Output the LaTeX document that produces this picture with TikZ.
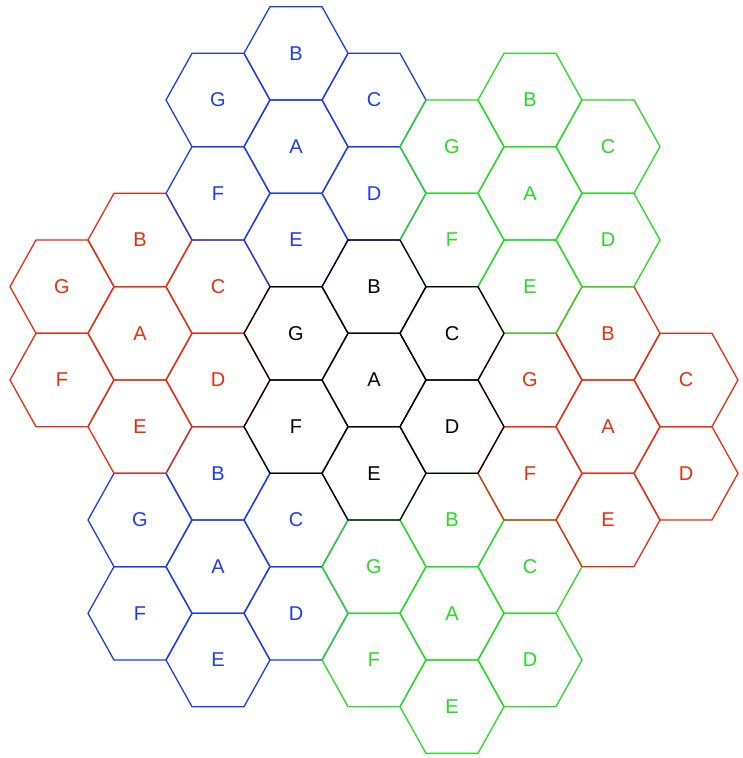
\documentclass[tikz,border=0pt]{standalone}
\usepackage{fontspec}
\setmainfont{Liberation Sans}
\definecolor{hblue}{RGB}{30,60,235}
\definecolor{hgreen}{RGB}{35,220,35}
\definecolor{hred}{RGB}{230,45,15}
\definecolor{hblack}{RGB}{0,0,0}
\tikzset{
  hexline/.style={line width=1.3pt, line join=miter},
  lbl/.style={font=\fontsize{20}{22}\selectfont, inner sep=0pt}
}
\newcommand\hexcell[5]{%
  \draw[hexline,draw=#1] ({#2-52},{#3}) -- ({#2-26},{#3-46.667}) -- ({#2+26},{#3-46.667})
     -- ({#2+52},{#3}) -- ({#2+26},{#3+46.667}) -- ({#2-26},{#3+46.667}) -- cycle;
  \node[lbl,text=#1] (#5) at ({#2},{#3}) {#4};%
}
\newcommand\hexcluster[4]{%
  \foreach \l/\dx/\dy in {A/0/0, B/0/-93.333, C/78/-46.667, D/78/46.667, E/0/93.333, F/-78/46.667, G/-78/-46.667}{%
    \pgfmathsetmacro\hx{#2+\dx}%
    \pgfmathsetmacro\hy{#3+\dy}%
    \hexcell{#1}{\hx}{\hy}{\l}{#4\l}%
  }%
}
\begin{document}
\begin{tikzpicture}[x=1pt,y=-1pt]
\useasboundingbox (0,0) rectangle (742,758);
\hexcluster{hblue}{218}{566.667}{bl}
\hexcluster{hgreen}{452}{613.333}{gb}
\hexcluster{hred}{608}{426.667}{rr}
\hexcluster{hred}{140}{333.333}{rl}
\hexcluster{hblue}{296}{146.667}{bt}
\hexcluster{hgreen}{530}{193.333}{gt}
\hexcluster{hblack}{374}{380}{k}
\end{tikzpicture}
\end{document}
